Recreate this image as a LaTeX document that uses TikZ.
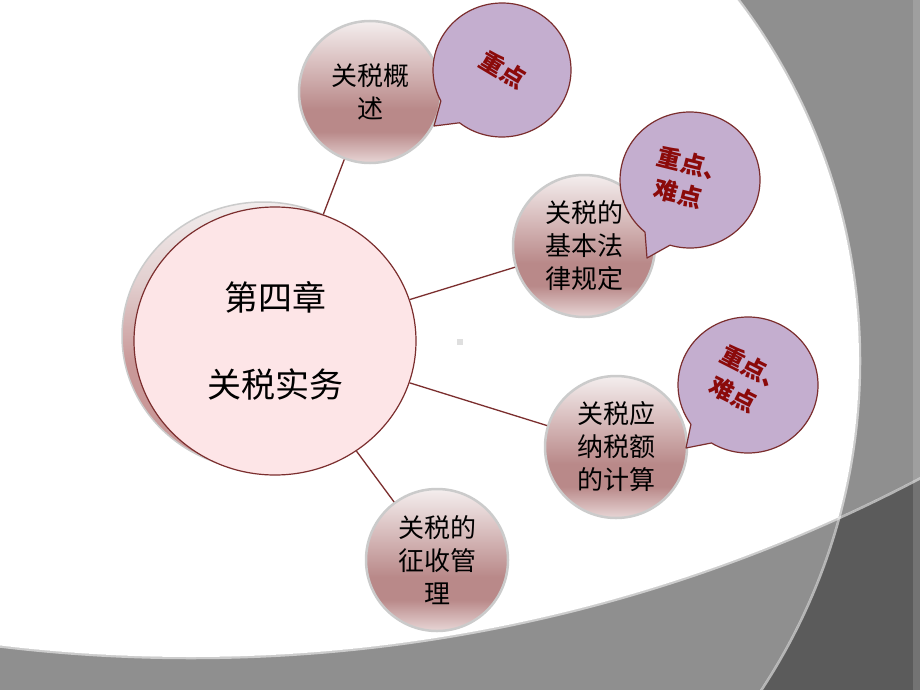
\documentclass[tikz,border=0pt]{standalone}
\usepackage{fontspec}
\setmainfont{Noto Sans CJK SC}
\usetikzlibrary{shapes.geometric,calc}
\definecolor{dred}{HTML}{7B2E2E}
\definecolor{mainfill}{HTML}{FDE5E7}
\definecolor{lilac}{HTML}{C4AECF}
\definecolor{btext}{HTML}{8B0A0A}
\definecolor{midgray}{HTML}{8F8F8F}
\definecolor{deepgray}{HTML}{5B5B5B}
\definecolor{ringgray}{HTML}{CBCBCB}
\definecolor{sa}{HTML}{F4EEEE}
\definecolor{sb}{HTML}{DCC4C4}
\definecolor{sc}{HTML}{B98989}
\definecolor{sd}{HTML}{E8D6D6}
\definecolor{ha}{HTML}{F2EDED}
\definecolor{hb}{HTML}{E2CFCF}
\definecolor{hc}{HTML}{C99898}
\pgfdeclareverticalshading{ballshade}{100bp}{color(0bp)=(sd); color(25bp)=(sd); color(36bp)=(sc); color(44bp)=(sc); color(62bp)=(sb); color(75bp)=(sa); color(100bp)=(sa)}
\pgfdeclareverticalshading{shadowshade}{100bp}{color(0bp)=(hc); color(25bp)=(hc); color(45bp)=(hc); color(60bp)=(hb); color(75bp)=(ha); color(100bp)=(ha)}
\tikzset{
  mainnode/.style={ellipse, draw=dred, line width=1.2pt, fill=mainfill,
    minimum width=282pt, minimum height=268pt, inner sep=0pt, align=center,
    font=\fontsize{34}{87}\selectfont},
  ball/.style={circle, draw=ringgray, line width=2.5pt, shade, shading=ballshade,
    minimum size=142pt, inner sep=0pt, align=center,
    font=\fontsize{26}{33}\selectfont},
  conn/.style={draw=dred, line width=1.3pt},
  bubble/.style={fill=lilac, draw=dred, line width=1.2pt, line join=round},
  btxt/.style={text=btext, font=\bfseries\fontsize{24}{32}\selectfont, align=left, inner sep=0pt},
}
\begin{document}
\begin{tikzpicture}[x=1pt,y=1pt]
\useasboundingbox (0,0) rectangle (920,-690);
% background
\fill[deepgray] (0,0) rectangle (920,-690);
\begin{scope}
  \clip (0,0) rectangle (920,-690);
  \fill[midgray] (262,-361) circle[radius=597];
  \fill[midgray] (191,909) circle[radius=1566];
  \begin{scope}
    \clip (262,-361) circle[radius=597];
    \fill[white] (191,909) circle[radius=1566];
  \end{scope}
  \draw[white, opacity=0.55, line width=2.5pt] (262,-361) circle[radius=598];
  \draw[white, opacity=0.55, line width=2.5pt] (191,909) circle[radius=1567];
  \fill[white, opacity=0.15] (913,0) rectangle (920,-690);
\end{scope}
\fill[gray!25] (457,-339) rectangle (463,-345);
% shadow of main circle
\shade[shading=shadowshade, draw=ringgray, line width=1.5pt] (263,-336) ellipse [x radius=141, y radius=134];
% nodes
\node[mainnode] (main) at (275,-341) {第四章\\关税实务};
\node[ball] (n1) at (370,-92) {关税概\\述};
\node[ball] (n2) at (584,-246) {关税的\\基本法\\律规定};
\node[ball] (n3) at (616,-447) {关税应\\纳税额\\的计算};
\node[ball] (n4) at (437,-560) {关税的\\征收管\\理};
% connectors
\draw[conn] (main) -- (n1);
\draw[conn] (main) -- (n2);
\draw[conn] (main) -- (n3);
\draw[conn] (main) -- (n4);
% bubbles
\coordinate (b1c) at (502,-70);
\coordinate (b1t) at (434,-126);
\filldraw[bubble] ($(b1c)+(207.6:69pt and 67pt)$) -- (b1t) -- ($(b1c)+(232:69pt and 67pt)$)
  arc[start angle=232, end angle=567.6, x radius=69pt, y radius=67pt] -- cycle;
\node[btxt, rotate=-31] (t1) at (503,-70) {重点};
\coordinate (b2c) at (690,-180);
\coordinate (b2t) at (647,-258);
\filldraw[bubble] ($(b2c)+(230:70pt and 68pt)$) -- (b2t) -- ($(b2c)+(253.4:70pt and 68pt)$)
  arc[start angle=253.4, end angle=590, x radius=70pt, y radius=68pt] -- cycle;
\node[btxt, rotate=-14] (t2) at (689,-180) {重点、\\\kern5pt 难点};
\coordinate (b3c) at (748,-385);
\coordinate (b3t) at (686,-448);
\filldraw[bubble] ($(b3c)+(215.4:70pt and 68pt)$) -- (b3t) -- ($(b3c)+(238.5:70pt and 68pt)$)
  arc[start angle=238.5, end angle=575.4, x radius=70pt, y radius=68pt] -- cycle;
\node[btxt, rotate=-27] (t3) at (747,-383) {重点、\\\kern5pt 难点};
\end{tikzpicture}
\end{document}
